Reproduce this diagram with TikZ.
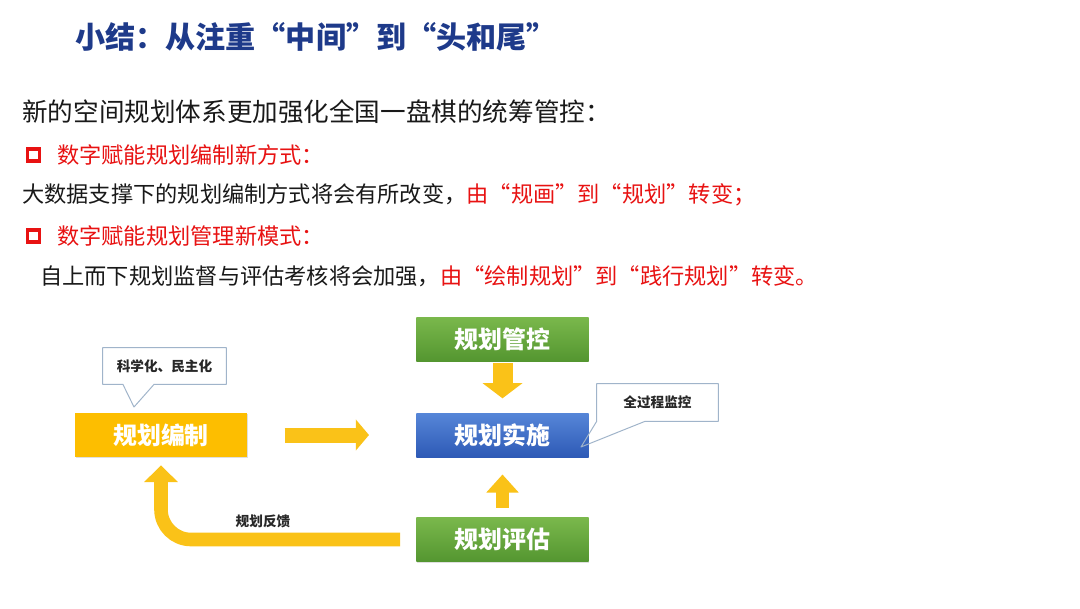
\documentclass[tikz,border=0pt]{standalone}
\usepackage{fontspec}
\setmainfont{Noto Sans CJK SC}[RawFeature=+fwid]
\usetikzlibrary{arrows.meta,shadows}

\definecolor{titleblue}{RGB}{30,58,138}
\definecolor{hired}{RGB}{232,18,18}
\definecolor{bodytext}{RGB}{25,25,25}
\definecolor{planyellow}{RGB}{253,190,0}
\definecolor{arrowyellow}{RGB}{250,194,24}
\definecolor{greentop}{RGB}{122,184,76}
\definecolor{greenbot}{RGB}{84,150,48}
\definecolor{bluetop}{RGB}{86,134,216}
\definecolor{bluebot}{RGB}{46,90,182}
\definecolor{calloutline}{RGB}{160,180,202}
\definecolor{notetext}{RGB}{40,40,40}

\begin{document}
\begin{tikzpicture}[x=0.025cm,y=-0.025cm,
  bodyline/.style={anchor=west, inner sep=0pt, text=bodytext, font=\fontsize{15.8}{18}\selectfont},
  redsquare/.style={draw=hired, line width=2.6pt, minimum size=0.3cm, inner sep=0pt},
  planbox/.style={minimum width=4.3cm, minimum height=1.1cm, inner sep=0pt, text=white,
    font=\fontsize{17}{20}\selectfont\bfseries,
    drop shadow={opacity=0.25, shadow xshift=0.6pt, shadow yshift=-0.8pt}},
  greenbox/.style={planbox, top color=greentop, bottom color=greenbot},
  callouttext/.style={inner sep=0pt, text=notetext, font=\fontsize{9.7}{11}\selectfont\bfseries},
  calloutedge/.style={draw=calloutline, line width=0.7pt, line join=round},
  flowarrow/.style={draw=arrowyellow}]

\fill[white] (0,0) rectangle (1080,608);
\useasboundingbox (0,0) rectangle (1080,608);

% heading and text lines
\node[anchor=west, inner sep=0pt, text=titleblue, font=\fontsize{21.4}{24}\selectfont\bfseries] (title) at (75,37) {小结：从注重“中间”到“头和尾”};
\node[bodyline, font=\fontsize{18.2}{20}\selectfont] (intro) at (22,112) {新的空间规划体系更加强化全国一盘棋的统筹管控：};
\node[redsquare] (sqA) at (33.5,155) {};
\node[bodyline, text=hired] (wayA) at (57,155) {数字赋能规划编制新方式：};
\node[bodyline] (lineA) at (22,195) {大数据支撑下的规划编制方式将会有所改变，\textcolor{hired}{由“规画”到“规划”转变；}};
\node[redsquare] (sqB) at (33.5,236) {};
\node[bodyline, text=hired] (wayB) at (57,236) {数字赋能规划管理新模式：};
\node[bodyline] (lineB) at (40,276) {自上而下规划监督与评估考核将会加强，\textcolor{hired}{由“绘制规划”到“践行规划”转变。}};

% flow boxes
\node[planbox, fill=planyellow] (bianzhi) at (161,435) {规划编制};
\node[greenbox] (guankong) at (502.5,339) {规划管控};
\node[planbox, top color=bluetop, bottom color=bluebot] (shishi) at (502.5,435) {规划实施};
\node[greenbox] (pinggu) at (502.5,539.5) {规划评估};

% arrows
\draw[flowarrow, line width=0.375cm, -{Triangle[length=0.33cm,width=0.76cm]}] ([xshift=0.93cm]bianzhi.east) -- ([xshift=-1.18cm]shishi.west);
\draw[flowarrow, line width=0.5cm, -{Triangle[length=0.38cm,width=0.98cm]}] ([yshift=-0.05cm]guankong.south) -- ([yshift=0.36cm]shishi.north);
\draw[flowarrow, line width=0.32cm, -{Triangle[length=0.45cm,width=0.78cm]}] ([yshift=0.24cm]pinggu.north) -- ([yshift=-0.43cm]shishi.south);
\draw[flowarrow, line width=0.34cm, rounded corners=0.75cm, -{Triangle[length=0.42cm,width=0.82cm]}] ([xshift=-0.4cm]pinggu.west) -| ([yshift=-0.2cm]bianzhi.south);
\node[callouttext] (fankui) at (263,521) {规划反馈};

% callouts
\node[callouttext, minimum width=3.075cm, minimum height=0.9cm] (minzhu) at (164.5,366) {科学化、民主化};
\coordinate (minzhutip) at (134,407);
\draw[calloutedge] (minzhu.north west) -- (minzhu.north east) -- (minzhu.south east) -- ([xshift=-0.26cm]minzhu.south) -- (minzhutip) -- ([xshift=-1.04cm]minzhu.south) -- (minzhu.south west) -- cycle;
\node[callouttext, minimum width=3.025cm, minimum height=0.925cm] (jiankong) at (657.5,402.5) {全过程监控};
\coordinate (jiankongtip) at (581,447);
\draw[calloutedge] (jiankong.south west) -- (jiankongtip) -- ([xshift=-0.31cm]jiankong.south) -- (jiankong.south east) -- (jiankong.north east) -- (jiankong.north west) -- cycle;
\end{tikzpicture}
\end{document}
